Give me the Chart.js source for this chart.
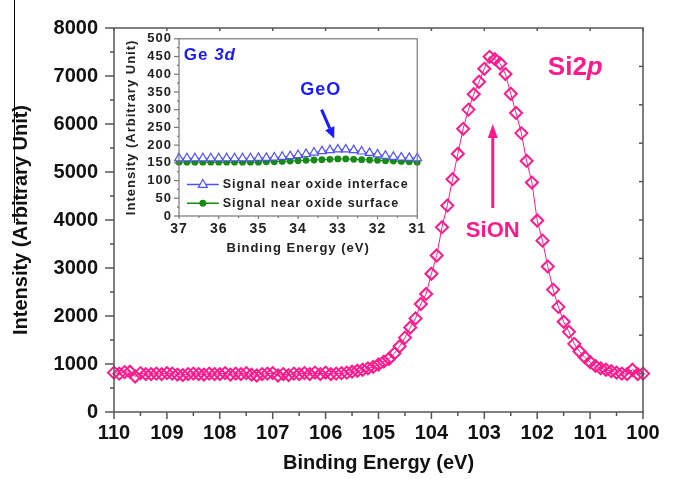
<!DOCTYPE html>
<html>
<head>
<meta charset="utf-8">
<script src="https://cdn.jsdelivr.net/npm/chart.js@4.4.1/dist/chart.umd.min.js"></script>
<style>
  html, body { margin: 0; padding: 0; background: #fff; }
  #wrap { position: relative; width: 673px; height: 479px; overflow: hidden; }
  #main { position: absolute; left: 0; top: 0; }
  #inset { position: absolute; left: 100px; top: 24px; }
</style>
</head>
<body>
<div id="wrap">
  <canvas id="main" width="673" height="479"></canvas>
  <canvas id="inset" width="330" height="236"></canvas>
</div>
<script>
// Si 2p spectrum (binding energy in eV, 0.1 eV steps)
const si2pEnergy = [
  110.0, 109.9, 109.8, 109.7, 109.6, 109.5, 109.4, 109.3, 109.2, 109.1,
  109.0, 108.9, 108.8, 108.7, 108.6, 108.5, 108.4, 108.3, 108.2, 108.1,
  108.0, 107.9, 107.8, 107.7, 107.6, 107.5, 107.4, 107.3, 107.2, 107.1,
  107.0, 106.9, 106.8, 106.7, 106.6, 106.5, 106.4, 106.3, 106.2, 106.1,
  106.0, 105.9, 105.8, 105.7, 105.6, 105.5, 105.4, 105.3, 105.2, 105.1,
  105.0, 104.9, 104.8, 104.7, 104.6, 104.5, 104.4, 104.3, 104.2, 104.1,
  104.0, 103.9, 103.8, 103.7, 103.6, 103.5, 103.4, 103.3, 103.2, 103.1,
  103.0, 102.9, 102.8, 102.7, 102.6, 102.5, 102.4, 102.3, 102.2, 102.1,
  102.0, 101.9, 101.8, 101.7, 101.6, 101.5, 101.4, 101.3, 101.2, 101.1,
  101.0, 100.9, 100.8, 100.7, 100.6, 100.5, 100.4, 100.3, 100.2, 100.1,
  100.0
];
const si2pIntensity = [
  820, 800, 830, 840, 740, 810, 790, 790, 800, 790,
  810, 800, 780, 770, 790, 800, 790, 780, 800, 790,
  790, 810, 780, 800, 790, 810, 780, 760, 790, 800,
  810, 760, 790, 770, 800, 790, 810, 790, 820, 790,
  820, 790, 800, 810, 820, 840, 860, 880, 910, 940,
  990, 1050, 1110, 1220, 1370, 1550, 1760, 1950, 2250, 2460,
  2880, 3260, 3850, 4300, 4850, 5380, 5900, 6300, 6620, 6880,
  7150, 7400, 7350, 7260, 7040, 6630, 6230, 5810, 5230, 4780,
  3990, 3570, 3030, 2550, 2190, 1880, 1670, 1420, 1260, 1140,
  1040, 960, 910, 880, 850, 820, 800, 790, 880, 790,
  800
];
const mainXTicks = [110, 109, 108, 107, 106, 105, 104, 103, 102, 101, 100];
const mainYTicks = [0, 1000, 2000, 3000, 4000, 5000, 6000, 7000, 8000];

// Ge 3d inset (binding energy in eV, 0.2 eV steps)
const ge3dEnergy = [
  37.0, 36.8, 36.6, 36.4, 36.2, 36.0, 35.8, 35.6, 35.4, 35.2,
  35.0, 34.8, 34.6, 34.4, 34.2, 34.0, 33.8, 33.6, 33.4, 33.2,
  33.0, 32.8, 32.6, 32.4, 32.2, 32.0, 31.8, 31.6, 31.4, 31.2,
  31.0
];
const ge3dInterface = [
  163, 163, 163, 163, 163, 163, 163, 163, 163, 163,
  164, 164, 165, 167, 169, 172, 175, 179, 183, 186,
  188, 188, 186, 182, 178, 174, 170, 167, 165, 164,
  163
];
const ge3dSurface = [
  152, 152, 152, 152, 152, 152, 152, 152, 152, 152,
  152, 153, 153, 154, 155, 156, 157, 158, 159, 160,
  161, 161, 160, 159, 158, 157, 156, 155, 154, 153,
  152
];
const insetXTicks = [37, 36, 35, 34, 33, 32, 31];
const insetYTicks = [0, 50, 100, 150, 200, 250, 300, 350, 400, 450, 500];

const PINK = '#ff1a8c';
const BLUE = '#1a1aff';
const LIGHT_BLUE = '#5050ff';
const GREEN = '#158a15';
const FONT = "'Liberation Sans', Arial, sans-serif";

function tickLine(ctx, x1, y1, x2, y2) {
  ctx.beginPath();
  ctx.moveTo(x1, y1);
  ctx.lineTo(x2, y2);
  ctx.stroke();
}

function isMultiple(v, step) {
  return Math.abs(v / step - Math.round(v / step)) < 1e-6;
}

// box around the plot area plus major/minor tick marks
const frame = {
  id: 'frame',
  afterDraw(chart, args, o) {
    const { ctx, chartArea: a, scales: { x, y } } = chart;
    ctx.save();
    ctx.strokeStyle = o.color;
    ctx.lineWidth = o.width;
    ctx.strokeRect(a.left, a.top, a.right - a.left, a.bottom - a.top);

    for (let v = x.min; v <= x.max + 1e-9; v += o.xMinor) {
      const px = x.getPixelForValue(v);
      const major = isMultiple(v, o.xMajor);
      tickLine(ctx, px, a.bottom, px, a.bottom + (major ? o.major : o.minor));
      if (o.topTicks && major) tickLine(ctx, px, a.top, px, a.top + o.topTicks);
    }
    for (let v = y.min; v <= y.max + 1e-9; v += o.yMinor) {
      const py = y.getPixelForValue(v);
      const major = isMultiple(v, o.yMajor);
      tickLine(ctx, a.left, py, a.left - (major ? o.major + 2 : o.minor), py);
    }
    if (o.rightStep) {
      for (let v = y.min + o.rightStep; v < y.max; v += o.rightStep) {
        const py = y.getPixelForValue(v);
        tickLine(ctx, a.right, py, a.right - 4, py);
      }
    }
    ctx.restore();
  }
};

function drawArrow(ctx, x1, y1, x2, y2, color, width, head, headW) {
  const ang = Math.atan2(y2 - y1, x2 - x1);
  const bx = x2 - Math.cos(ang) * head;
  const by = y2 - Math.sin(ang) * head;
  ctx.save();
  ctx.strokeStyle = color;
  ctx.fillStyle = color;
  ctx.lineWidth = width;
  ctx.beginPath();
  ctx.moveTo(x1, y1);
  ctx.lineTo(bx, by);
  ctx.stroke();
  ctx.beginPath();
  ctx.moveTo(x2, y2);
  ctx.lineTo(bx + Math.sin(ang) * headW, by - Math.cos(ang) * headW);
  ctx.lineTo(bx - Math.sin(ang) * headW, by + Math.cos(ang) * headW);
  ctx.closePath();
  ctx.fill();
  ctx.restore();
}

// draw "normal" + "italic" pieces centred (or left aligned) on x
function drawMixed(ctx, parts, x, y, size, color, align) {
  ctx.save();
  ctx.fillStyle = color;
  ctx.textBaseline = 'middle';
  ctx.textAlign = 'left';
  let total = 0;
  parts.forEach(p => {
    ctx.font = (p.italic ? 'italic ' : '') + 'bold ' + size + 'px ' + FONT;
    p.w = ctx.measureText(p.text).width;
    total += p.w;
  });
  let cx = align === 'left' ? x : x - total / 2;
  parts.forEach(p => {
    ctx.font = (p.italic ? 'italic ' : '') + 'bold ' + size + 'px ' + FONT;
    ctx.fillText(p.text, cx, y);
    cx += p.w;
  });
  ctx.restore();
}

const mainNotes = {
  id: 'mainNotes',
  afterDraw(chart) {
    const { ctx, scales: { x, y } } = chart;
    drawMixed(ctx, [{ text: 'Si2' }, { text: 'p', italic: true }],
      x.getPixelForValue(101.28), y.getPixelForValue(7170), 26, PINK, 'center');
    drawMixed(ctx, [{ text: 'SiON' }],
      x.getPixelForValue(102.84), y.getPixelForValue(3780), 22, PINK, 'center');
    const ax = x.getPixelForValue(102.84);
    drawArrow(ctx, ax, y.getPixelForValue(4250), ax, y.getPixelForValue(6000), PINK, 3, 14, 5);
    // thin scan edge on the far left of the original figure
    ctx.save();
    ctx.strokeStyle = '#000';
    ctx.lineWidth = 1;
    tickLine(ctx, 14.5, 0, 14.5, 223);
    ctx.restore();
  }
};

const insetNotes = {
  id: 'insetNotes',
  beforeDraw(chart) {
    chart.ctx.letterSpacing = '1px';
  },
  afterDraw(chart) {
    const { ctx, scales: { x, y } } = chart;
    drawMixed(ctx, [{ text: 'Ge ' }, { text: '3d', italic: true }],
      x.getPixelForValue(36.88), y.getPixelForValue(453), 17, BLUE, 'left');
    drawMixed(ctx, [{ text: 'GeO' }],
      x.getPixelForValue(33.43), y.getPixelForValue(355), 18, BLUE, 'center');
    drawArrow(ctx, x.getPixelForValue(33.41), y.getPixelForValue(300),
      x.getPixelForValue(33.09), y.getPixelForValue(219), BLUE, 3, 11, 5);

    // legend
    const ds = chart.data.datasets;
    const lx1 = x.getPixelForValue(36.8), lx2 = x.getPixelForValue(36.0);
    const tx = x.getPixelForValue(35.9);
    const rows = [89, 36];
    ctx.save();
    ds.forEach((d, i) => {
      const ly = y.getPixelForValue(rows[i]);
      const mx = (lx1 + lx2) / 2;
      ctx.strokeStyle = d.borderColor;
      ctx.lineWidth = 1.5;
      tickLine(ctx, lx1, ly, lx2, ly);
      ctx.beginPath();
      if (d.pointStyle === 'triangle') {
        const r = d.pointRadius;
        ctx.moveTo(mx, ly - r);
        ctx.lineTo(mx + r * 0.9, ly + r * 0.6);
        ctx.lineTo(mx - r * 0.9, ly + r * 0.6);
        ctx.closePath();
        ctx.fillStyle = '#fff';
        ctx.fill();
        ctx.strokeStyle = d.pointBorderColor;
        ctx.lineWidth = d.pointBorderWidth;
        ctx.stroke();
      } else {
        ctx.arc(mx, ly, d.pointRadius, 0, Math.PI * 2);
        ctx.fillStyle = d.pointBackgroundColor;
        ctx.fill();
      }
      ctx.fillStyle = '#222';
      ctx.font = 'bold 12.5px ' + FONT;
      ctx.textBaseline = 'middle';
      ctx.textAlign = 'left';
      ctx.fillText(d.label, tx, ly);
    });
    ctx.restore();
  }
};

const axisFont = { family: FONT, size: 20, weight: 'bold' };
const plain = v => String(v);

new Chart(document.getElementById('main'), {
  type: 'line',
  data: {
    datasets: [{
      label: 'Si 2p',
      data: si2pEnergy.map((e, i) => ({ x: e, y: si2pIntensity[i] })),
      borderColor: PINK,
      borderWidth: 1,
      pointStyle: 'rectRot',
      pointRadius: 6,
      pointBorderWidth: 2,
      pointBorderColor: PINK,
      pointBackgroundColor: 'rgba(255,255,255,0)',
      tension: 0,
      clip: false
    }]
  },
  options: {
    responsive: false,
    animation: false,
    devicePixelRatio: 1,
    layout: { padding: { left: 0, right: 30, top: 17, bottom: 0 } },
    plugins: {
      legend: { display: false },
      tooltip: { enabled: false },
      frame: { color: '#555', width: 1.5, xMajor: 1, xMinor: 0.5, yMajor: 1000, yMinor: 500,
               major: 7, minor: 4, topTicks: 3, rightStep: 800 }
    },
    scales: {
      x: {
        type: 'linear', reverse: true, min: 100, max: 110,
        afterBuildTicks: s => { s.ticks = mainXTicks.map(v => ({ value: v })); },
        afterFit: s => { s.height = 67; },
        grid: { display: false, drawTicks: false },
        border: { display: false },
        ticks: { font: axisFont, color: '#111', padding: 9, maxRotation: 0, autoSkip: false,
                 callback: plain },
        title: { display: true, text: 'Binding Energy (eV)', font: axisFont, color: '#111',
                 padding: { top: 0, bottom: 4 } }
      },
      y: {
        min: 0, max: 8000,
        afterBuildTicks: s => { s.ticks = mainYTicks.map(v => ({ value: v })); },
        afterFit: s => { s.width = 114; },
        grid: { display: false, drawTicks: false },
        border: { display: false },
        ticks: { font: axisFont, color: '#111', padding: 16, autoSkip: false, callback: plain },
        title: { display: true, text: 'Intensity (Arbitrary Unit)', font: axisFont, color: '#111',
                 padding: { top: 9, bottom: 0 } }
      }
    }
  },
  plugins: [frame, mainNotes]
});

new Chart(document.getElementById('inset'), {
  type: 'line',
  data: {
    datasets: [{
      label: 'Signal near oxide interface',
      data: ge3dEnergy.map((e, i) => ({ x: e, y: ge3dInterface[i] })),
      borderColor: LIGHT_BLUE,
      borderWidth: 1,
      pointStyle: 'triangle',
      pointRadius: 5,
      pointBorderWidth: 1.2,
      pointBorderColor: LIGHT_BLUE,
      pointBackgroundColor: '#fff',
      tension: 0,
      clip: false
    }, {
      label: 'Signal near oxide surface',
      data: ge3dEnergy.map((e, i) => ({ x: e, y: ge3dSurface[i] })),
      borderColor: GREEN,
      borderWidth: 1,
      pointStyle: 'circle',
      pointRadius: 3.4,
      pointBorderWidth: 0,
      pointBackgroundColor: GREEN,
      tension: 0,
      clip: false
    }]
  },
  options: {
    responsive: false,
    animation: false,
    devicePixelRatio: 1,
    layout: { padding: { left: 0, right: 7, top: 12, bottom: 0 } },
    plugins: {
      legend: { display: false },
      tooltip: { enabled: false },
      frame: { color: '#777', width: 1.2, xMajor: 1, xMinor: 0.5, yMajor: 50, yMinor: 25,
               major: 3, minor: 2 }
    },
    scales: {
      x: {
        type: 'linear', reverse: true, min: 31, max: 37,
        afterBuildTicks: s => { s.ticks = insetXTicks.map(v => ({ value: v })); },
        afterFit: s => { s.height = 44; },
        grid: { display: false, drawTicks: false },
        border: { display: false },
        ticks: { font: { family: FONT, size: 14, weight: 'bold' }, color: '#222', padding: 5,
                 maxRotation: 0, autoSkip: false, callback: plain },
        title: { display: true, text: 'Binding Energy (eV)',
                 font: { family: FONT, size: 13, weight: 'bold' }, color: '#222',
                 padding: { top: 0, bottom: 4 } }
      },
      y: {
        min: 0, max: 500,
        afterBuildTicks: s => { s.ticks = insetYTicks.map(v => ({ value: v })); },
        afterFit: s => { s.width = 79; },
        grid: { display: false, drawTicks: false },
        border: { display: false },
        ticks: { font: { family: FONT, size: 13, weight: 'bold' }, color: '#222', padding: 7,
                 autoSkip: false, callback: plain },
        title: { display: true, text: 'Intensity (Arbitrary Unit)',
                 font: { family: FONT, size: 13, weight: 'bold' }, color: '#222',
                 padding: { top: 24, bottom: 0 } }
      }
    }
  },
  plugins: [frame, insetNotes]
});
</script>
</body>
</html>
